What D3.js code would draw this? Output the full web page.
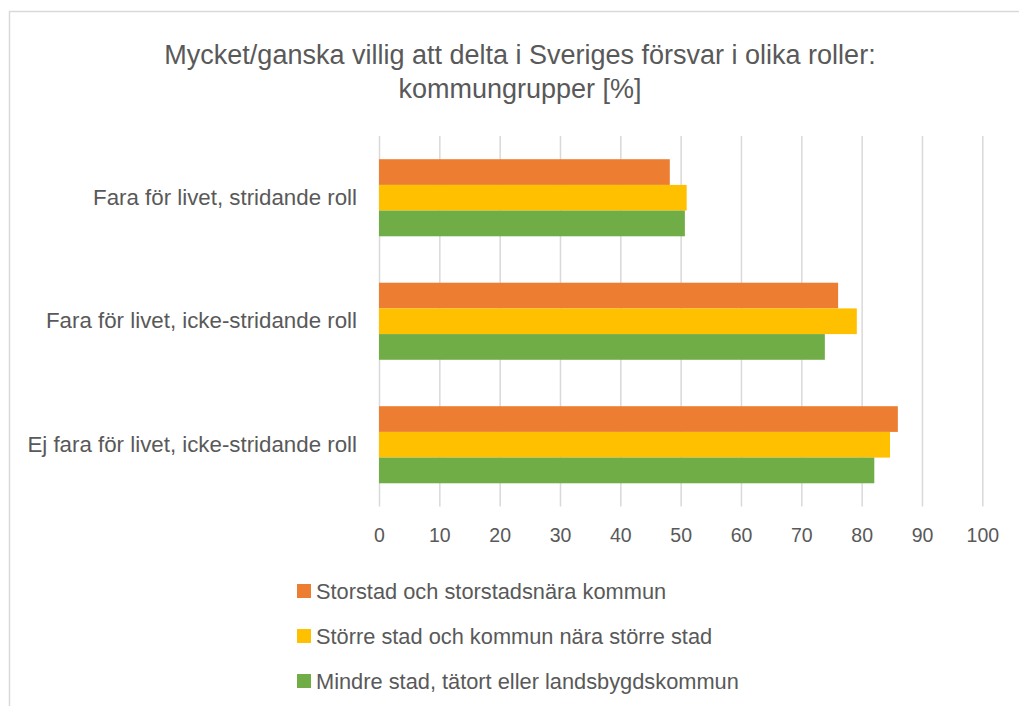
<!DOCTYPE html>
<html lang="sv">
<head>
<meta charset="utf-8">
<title>Villighet att delta i försvaret</title>
<script src="https://d3js.org/d3.v7.min.js"></script>
<style>
  body { margin: 0; background: #fff; }
  svg text { font-family: "Liberation Sans", Arial, sans-serif; fill: #595959; }
</style>
</head>
<body>
<svg width="1019" height="706"></svg>
<script>
// data
var categories = [
  "Fara för livet, stridande roll",
  "Fara för livet, icke-stridande roll",
  "Ej fara för livet, icke-stridande roll"
];
var seriesNames = [
  "Storstad och storstadsnära kommun",
  "Större stad och kommun nära större stad",
  "Mindre stad, tätort eller landsbygdskommun"
];
var storstad = [48.2, 76.1, 86.0];
var storreStad = [51.0, 79.2, 84.7];
var mindreStad = [50.7, 73.9, 82.1];
var xTicks = [0, 10, 20, 30, 40, 50, 60, 70, 80, 90, 100];
var colors = ["#ED7D31", "#FFC000", "#70AD47"];

var allSeries = [storstad, storreStad, mindreStad];

var svg = d3.select("svg");

// chart frame (cut off at right and bottom like the screenshot)
svg.append("rect")
  .attr("x", 9.5).attr("y", 11.5)
  .attr("width", 1030).attr("height", 720)
  .attr("fill", "none")
  .attr("stroke", "#d9d9d9")
  .attr("stroke-width", 1.5);

var plotLeft = 379, plotRight = 982.3, plotTop = 136, plotBottom = 506.5;

var x = d3.scaleLinear().domain([0, 100]).range([plotLeft, plotRight]);
var y = d3.scaleBand().domain(categories).range([plotTop, plotBottom])
  .paddingInner(0.376).paddingOuter(0.188);
var ySub = d3.scaleBand().domain(d3.range(allSeries.length)).range([0, y.bandwidth()]);

// gridlines + tick labels via axis
var xAxis = svg.append("g")
  .attr("transform", "translate(0," + plotTop + ")")
  .call(d3.axisBottom(x).tickValues(xTicks).tickSize(plotBottom - plotTop).tickPadding(22));
xAxis.select(".domain").remove();
xAxis.selectAll(".tick line").attr("stroke", "#d9d9d9").attr("stroke-width", 1.5);
xAxis.selectAll(".tick text")
  .style("font-size", "19.5px")
  .attr("fill", "#595959");

// bars
allSeries.forEach(function(vals, s) {
  svg.append("g").selectAll("rect")
    .data(vals)
    .enter().append("rect")
    .attr("x", x(0))
    .attr("y", function(d, i) { return y(categories[i]) + ySub(s); })
    .attr("width", function(d) { return x(d) - x(0); })
    .attr("height", ySub.bandwidth())
    .attr("fill", colors[s]);
});

// category labels
var yAxis = svg.append("g")
  .attr("transform", "translate(" + (plotLeft - 22) + ",0)")
  .call(d3.axisLeft(y).tickSize(0).tickPadding(0));
yAxis.select(".domain").remove();
yAxis.selectAll(".tick text")
  .style("font-size", "22.3px")
  .attr("fill", "#595959");

// title
var title = svg.append("text")
  .attr("text-anchor", "middle")
  .style("font-size", "27px");
title.append("tspan").attr("x", 520).attr("y", 64)
  .text("Mycket/ganska villig att delta i Sveriges försvar i olika roller:");
title.append("tspan").attr("x", 520).attr("y", 98)
  .text("kommungrupper [%]");

// legend
var legend = svg.append("g").selectAll("g")
  .data(seriesNames)
  .enter().append("g")
  .attr("transform", function(d, i) { return "translate(297," + (591 + i * 45) + ")"; });
legend.append("rect")
  .attr("x", 0).attr("y", -7)
  .attr("width", 14).attr("height", 14)
  .attr("fill", function(d, i) { return colors[i]; });
legend.append("text")
  .attr("x", 19).attr("dy", "0.35em")
  .style("font-size", "21.8px")
  .text(function(d) { return d; });
</script>
</body>
</html>
